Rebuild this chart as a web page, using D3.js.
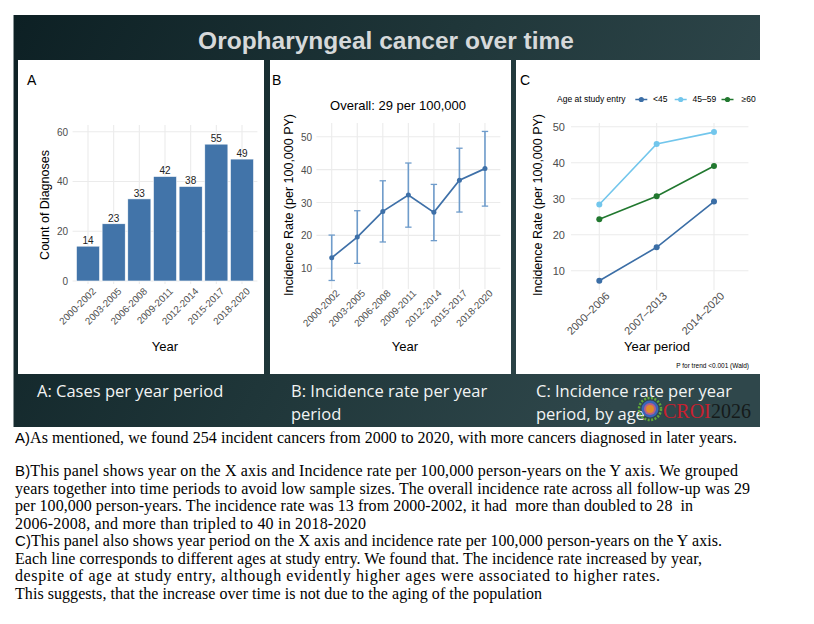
<!DOCTYPE html>
<html><head><meta charset="utf-8">
<script src="https://cdn.jsdelivr.net/npm/d3@7"></script>
<style>body{margin:0;background:#fff}svg{display:block}text{white-space:pre}</style>
</head><body>
<svg id="c" width="814" height="624"></svg>
<script>
// ---------- data ----------
const periodsA = ["2000-2002","2003-2005","2006-2008","2009-2011","2012-2014","2015-2017","2018-2020"];
const counts = [14,23,33,42,38,55,49];
const countTicks = [0,20,40,60];

const rate = [13.2,19.5,27.3,32.3,27.0,36.8,40.3];
const rateLower = [6.3,11.5,18.0,22.5,18.4,27.1,28.9];
const rateUpper = [20.1,27.5,36.6,42.0,35.5,46.5,51.6];
const rateTicks = [10,20,30,40,50];

const periodsC = ["2000–2006","2007–2013","2014–2020"];
const ageGroups = ["<45","45–59","≥60"];
const rateUnder45 = [7.2,16.5,29.2];
const rate45to59 = [28.4,45.2,48.5];
const rate60plus = [24.3,30.7,39.1];
const ageColors = ["#3b6ea6","#72c6ec","#21782f"];

const bodyLines = [
  ["A)","As mentioned, we found 254 incident cancers from 2000 to 2020, with more cancers diagnosed in later years."],
  null,
  ["B)","This panel shows year on the X axis and Incidence rate per 100,000 person-years on the Y axis. We grouped"],
  ["","years together into time periods to avoid low sample sizes. The overall incidence rate across all follow-up was 29"],
  ["","per 100,000 person-years. The incidence rate was 13 from 2000-2002, it had  more than doubled to 28  in"],
  ["","2006-2008, and more than tripled to 40 in 2018-2020"],
  ["C)","This panel also shows year period on the X axis and incidence rate per 100,000 person-years on the Y axis."],
  ["","Each line corresponds to different ages at study entry. We found that. The incidence rate increased by year,"],
  ["","despite of age at study entry, although evidently higher ages were associated to higher rates."],
  ["","This suggests, that the increase over time is not due to the aging of the population"]
];
const bodyLineEnds = [737, null, 738, 750, 693, 366, 722, 702, 660, 542];

// ---------- drawing ----------
const svg = d3.select("#c");
const SANS = "'Liberation Sans', Arial, Helvetica, sans-serif";
const defs = svg.append("defs");
const g1 = defs.append("linearGradient").attr("id","bg").attr("x1","0").attr("y1","0").attr("x2","1").attr("y2","0.3");
g1.append("stop").attr("offset","0").attr("stop-color","#0d2024");
g1.append("stop").attr("offset","0.55").attr("stop-color","#1f3639");
g1.append("stop").attr("offset","1").attr("stop-color","#2f474b");

svg.append("rect").attr("x",13).attr("y",15).attr("width",747).attr("height",412).attr("fill","url(#bg)");
svg.append("line").attr("x1",13.5).attr("x2",13.5).attr("y1",15).attr("y2",427).attr("stroke","#8a9597").attr("stroke-width",1);

svg.append("text").attr("x",386).attr("y",49).attr("text-anchor","middle")
  .attr("font-family",SANS).attr("font-weight","bold").attr("font-size",24.5).attr("fill","#d6d9da")
  .text("Oropharyngeal cancer over time");

// panels
const panels = [[18,264],[270,511],[516,760]];
panels.forEach(p=>svg.append("rect").attr("x",p[0]).attr("y",60).attr("width",p[1]-p[0]).attr("height",314).attr("fill","#fff"));
[["A",27],["B",272],["C",520]].forEach(d=>svg.append("text").attr("x",d[1]).attr("y",85).attr("font-family",SANS).attr("font-size",14).attr("fill","#000").text(d[0]));

const GRID = "#ebebeb", TICK="#4d4d4d";

function yGrid(g, y, ticks, x0, x1){
  g.selectAll(null).data(ticks).enter().append("line")
    .attr("x1",x0).attr("x2",x1).attr("y1",d=>y(d)).attr("y2",d=>y(d)).attr("stroke",GRID).attr("stroke-width",1.1);
}
function xGrid(g, x, cats, y0, y1){
  g.selectAll(null).data(cats).enter().append("line")
    .attr("x1",d=>x(d)).attr("x2",d=>x(d)).attr("y1",y0).attr("y2",y1).attr("stroke",GRID).attr("stroke-width",1.1);
}
function yAxis(g, y, ticks, xr, fs){
  const ax = d3.axisLeft(y).tickValues(ticks).tickSize(0).tickPadding(0);
  const a = g.append("g").attr("transform",`translate(${xr},0)`).call(ax);
  a.select(".domain").remove();
  a.selectAll("text").attr("font-family",SANS).attr("font-size",fs).attr("fill",TICK).attr("dy","0.35em");
}
function xAxis(g, x, cats, yTop, fs, dx){
  const ax = d3.axisBottom(x).tickSize(0).tickPadding(0);
  const a = g.append("g").attr("transform",`translate(0,${yTop})`).call(ax);
  a.select(".domain").remove();
  a.selectAll("text").attr("font-family",SANS).attr("font-size",fs).attr("fill",TICK)
    .attr("text-anchor","end").attr("y",0).attr("dy","0.72em")
    .attr("transform",`translate(${dx},0) rotate(-45)`);
}
function yTitle(g, text, cx, cy){
  g.append("text").attr("transform",`translate(${cx},${cy}) rotate(-90)`).attr("text-anchor","middle")
    .attr("dy","0.35em").attr("font-family",SANS).attr("font-size",12.5).attr("fill","#000").text(text);
}
function xTitle(g, text, cx, cy){
  g.append("text").attr("x",cx).attr("y",cy).attr("text-anchor","middle")
    .attr("font-family",SANS).attr("font-size",13).attr("fill","#000").text(text);
}

// ----- Panel A -----
{
  const g = svg.append("g");
  const x = d3.scalePoint().domain(periodsA).range([72.6,257.4]).padding(0.6);
  const y = d3.scaleLinear().domain([0,60]).range([281,131.7]);
  yGrid(g,y,countTicks,72.6,257.4);
  xGrid(g,x,periodsA,125,284);
  const bw = x.step()*0.9;
  g.selectAll(null).data(periodsA).enter().append("rect")
    .attr("x",d=>x(d)-bw/2).attr("width",bw)
    .attr("y",(d,i)=>y(counts[i])).attr("height",(d,i)=>y(0)-y(counts[i]))
    .attr("fill","#4274a9").attr("stroke","#fff").attr("stroke-width",0.6);
  g.selectAll(null).data(periodsA).enter().append("text")
    .attr("x",d=>x(d)).attr("y",(d,i)=>y(counts[i])-2).attr("text-anchor","middle")
    .attr("font-family",SANS).attr("font-size",10).attr("fill","#222").text((d,i)=>counts[i]);
  yAxis(g,y,countTicks,68,10);
  xAxis(g,x,periodsA,287,9.8,3);
  yTitle(g,"Count of Diagnoses",45,205);
  xTitle(g,"Year",165,351);
}

// ----- Panel B -----
{
  const g = svg.append("g");
  const x = d3.scalePoint().domain(periodsA).range([316.4,500.3]).padding(0.6);
  const y = d3.scaleLinear().domain([10,50]).range([268.3,136.7]);
  svg.append("text").attr("x",398).attr("y",110).attr("text-anchor","middle")
    .attr("font-family",SANS).attr("font-size",13).attr("fill","#000").text("Overall: 29 per 100,000");
  yGrid(g,y,rateTicks,316.4,500.3);
  xGrid(g,x,periodsA,123,289);
  const ec = "#6f9ccb";
  periodsA.forEach((d,i)=>{
    const cx = x(d);
    g.append("line").attr("x1",cx).attr("x2",cx).attr("y1",y(rateLower[i])).attr("y2",y(rateUpper[i])).attr("stroke",ec).attr("stroke-width",1.6);
    [rateLower[i],rateUpper[i]].forEach(v=>g.append("line").attr("x1",cx-3.2).attr("x2",cx+3.2).attr("y1",y(v)).attr("y2",y(v)).attr("stroke",ec).attr("stroke-width",1.3));
  });
  const line = d3.line().x((d,i)=>x(periodsA[i])).y(d=>y(d));
  g.append("path").datum(rate).attr("d",line).attr("fill","none").attr("stroke","#3e70a8").attr("stroke-width",1.7);
  g.selectAll(null).data(rate).enter().append("circle")
    .attr("cx",(d,i)=>x(periodsA[i])).attr("cy",d=>y(d)).attr("r",2.5).attr("fill","#3e70a8");
  yAxis(g,y,rateTicks,312,10);
  xAxis(g,x,periodsA,289,9.8,3);
  yTitle(g,"Incidence Rate (per 100,000 PY)",289,205);
  xTitle(g,"Year",405,351);
}

// ----- Panel C -----
{
  const g = svg.append("g");
  const x = d3.scalePoint().domain(periodsC).range([564.9,748.4]).padding(0.6);
  const y = d3.scaleLinear().domain([10,50]).range([270.7,126.7]);
  yGrid(g,y,rateTicks,571,748.4);
  xGrid(g,x,periodsC,123,290);
  const series = [rateUnder45, rate45to59, rate60plus];
  const line = d3.line().x((d,i)=>x(periodsC[i])).y(d=>y(d));
  series.forEach((s,k)=>{
    g.append("path").datum(s).attr("d",line).attr("fill","none").attr("stroke",ageColors[k]).attr("stroke-width",1.6);
    g.selectAll(null).data(s).enter().append("circle")
      .attr("cx",(d,i)=>x(periodsC[i])).attr("cy",d=>y(d)).attr("r",3).attr("fill",ageColors[k]);
  });
  yAxis(g,y,rateTicks,565,11);
  xAxis(g,x,periodsC,291,11,5);
  yTitle(g,"Incidence Rate (per 100,000 PY)",538,205);
  xTitle(g,"Year period",657,351);
  // legend
  const ly = 99.5;
  g.append("text").attr("x",557).attr("y",ly).attr("dy","0.35em").attr("font-family",SANS).attr("font-size",8.5).attr("fill","#000").text("Age at study entry");
  const keyX = [641.3,680.7,727.5], labX = [653,692.5,741.5];
  ageGroups.forEach((a,k)=>{
    g.append("line").attr("x1",keyX[k]-6).attr("x2",keyX[k]+6).attr("y1",ly).attr("y2",ly).attr("stroke",ageColors[k]).attr("stroke-width",1.5);
    g.append("circle").attr("cx",keyX[k]).attr("cy",ly).attr("r",2.6).attr("fill",ageColors[k]);
    g.append("text").attr("x",labX[k]).attr("y",ly).attr("dy","0.35em").attr("font-family",SANS).attr("font-size",8.5).attr("fill","#000").text(a);
  });
  g.append("text").attr("x",749).attr("y",368).attr("text-anchor","end").attr("font-family",SANS).attr("font-size",6.5).attr("fill","#000").text("P for trend <0.001 (Wald)");
}

// ----- captions -----
const CAP = "'Open Sans', 'Noto Sans', sans-serif";
const caps = [
  [37, ["A: Cases per year period"]],
  [291, ["B: Incidence rate per year","period"]],
  [536, ["C: Incidence rate per year","period, by age"]]
];
caps.forEach(c=>c[1].forEach((t,i)=>svg.append("text").attr("x",c[0]).attr("y",397+i*23)
  .attr("font-family",CAP).attr("font-size",16.5).attr("fill","#f2f4f4").text(t)));

// CROI logo
{
  const lg = svg.append("g").attr("transform","translate(650,409)");
  lg.append("circle").attr("r",11).attr("fill","none").attr("stroke","#5fa83a").attr("stroke-width",2.5).attr("stroke-dasharray","2 1.5");
  lg.append("circle").attr("r",8.5).attr("fill","#3a64b8");
  lg.append("circle").attr("r",6).attr("fill","#b45f8a");
  lg.append("circle").attr("r",4).attr("fill","#e08a2a");
  svg.append("text").attr("x",663).attr("y",418).attr("font-family","'Liberation Serif', serif").attr("font-size",20).attr("fill","#c8202f").text("CROI");
  svg.append("text").attr("x",711).attr("y",418).attr("font-family","'Liberation Serif', serif").attr("font-size",20).attr("fill","#151a1a").text("2026");
}

// ----- body text -----
const SERIF = "'Liberation Serif', 'Times New Roman', serif";
bodyLines.forEach((l,i)=>{
  const yy = i===0 ? 443 : 476 + (i-2)*17.5;
  if(!l) return;
  const t = svg.append("text").attr("x",15).attr("y",yy).attr("font-family",SERIF).attr("font-size",16).attr("fill","#000")
    .attr("textLength", bodyLineEnds[i]-15).attr("lengthAdjust","spacing");
  if(l[0]) t.append("tspan").attr("font-family",SANS).attr("font-size",15).text(l[0]);
  t.append("tspan").text(l[1]);
});
</script>
</body></html>
